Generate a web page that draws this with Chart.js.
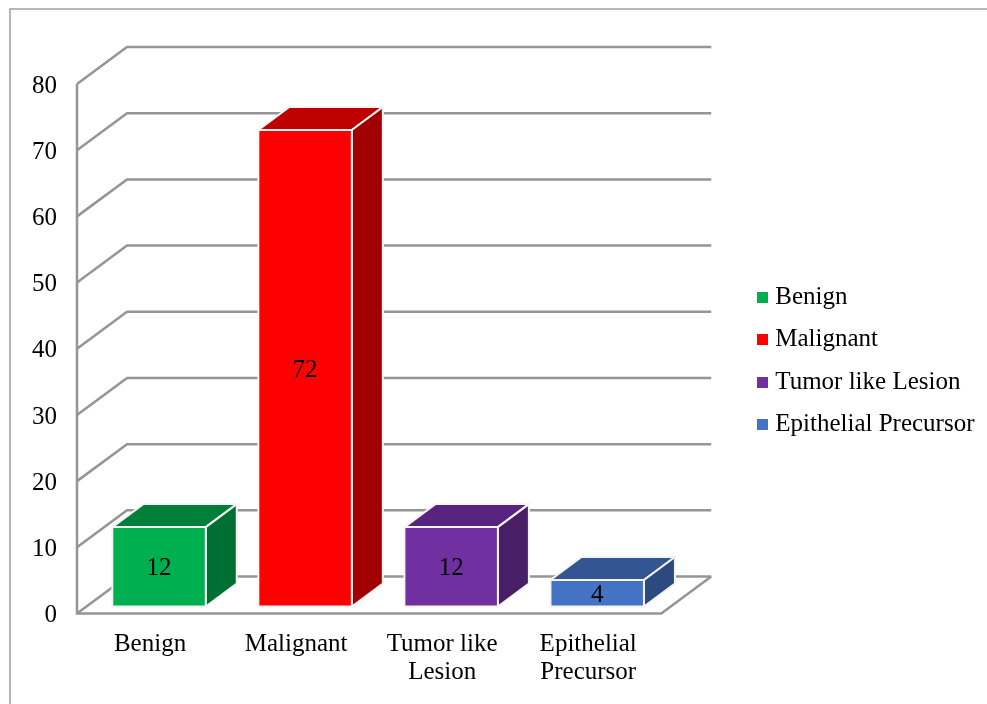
<!DOCTYPE html>
<html lang="en">
<head>
    <meta charset="UTF-8">
    <script src="https://cdn.jsdelivr.net/npm/chart.js"></script>
    <title>Lesion types</title>
    <style>
        body { margin: 0; background: #fff; overflow: hidden; }
    </style>
</head>
<body>
    <canvas id="lesionChart" width="987" height="704"></canvas>

    <script>
    const categories = ['Benign', 'Malignant', ['Tumor like', 'Lesion'], ['Epithelial', 'Precursor']];
    const legendNames = ['Benign', 'Malignant', 'Tumor like Lesion', 'Epithelial Precursor'];
    const cases = [12, 72, 12, 4];
    const yTicks = [0, 10, 20, 30, 40, 50, 60, 70, 80];

    const frontColors = ['#00b050', '#ff0000', '#7030a0', '#4472c4'];
    const topColors = ['#007f3a', '#bf0000', '#582480', '#335592'];
    const sideColors = ['#006f32', '#a00000', '#481e67', '#2c4a80'];

    const FONT = 'Liberation Serif';
    const GRID_COLOR = '#959595';
    // how far the back wall sits behind the front plane
    const WALL_X = 50, WALL_Y = 37;
    // bars stand a little way in from the front edge of the floor
    const BAR_SHIFT_X = 9, BAR_SHIFT_Y = 7;
    const BAR_DEPTH_X = 31, BAR_DEPTH_Y = 23;

    function legendSwatch(color) {
        const c = document.createElement('canvas');
        c.width = 11;
        c.height = 11;
        const g = c.getContext('2d');
        g.fillStyle = color;
        g.fillRect(0, 0, 11, 11);
        return c;
    }

    function polygon(ctx, points, fill, stroke) {
        ctx.beginPath();
        points.forEach((p, i) => i ? ctx.lineTo(p[0], p[1]) : ctx.moveTo(p[0], p[1]));
        ctx.closePath();
        ctx.fillStyle = fill;
        ctx.fill();
        ctx.strokeStyle = stroke;
        ctx.stroke();
    }

    const frame3d = {
        id: 'frame3d',
        beforeDraw(chart) {
            const ctx = chart.ctx;
            ctx.save();
            ctx.strokeStyle = '#a0a0a0';
            ctx.lineWidth = 1.5;
            ctx.strokeRect(10, 9, 990, 720);
            ctx.restore();
        },
        beforeDatasetsDraw(chart) {
            const ctx = chart.ctx;
            const {left, right} = chart.chartArea;
            const y = chart.scales.y;
            ctx.save();
            ctx.lineWidth = 2.5;
            ctx.strokeStyle = GRID_COLOR;
            yTicks.forEach((v) => {
                const py = y.getPixelForValue(v);
                ctx.beginPath();
                ctx.moveTo(left, py);
                ctx.lineTo(left + WALL_X, py - WALL_Y);
                ctx.lineTo(right + WALL_X, py - WALL_Y);
                ctx.stroke();
            });
            // floor front and right edges, then the left axis
            const base = y.getPixelForValue(0);
            ctx.beginPath();
            ctx.moveTo(left, y.getPixelForValue(80));
            ctx.lineTo(left, base);
            ctx.lineTo(right, base);
            ctx.lineTo(right + WALL_X, base - WALL_Y);
            ctx.stroke();
            ctx.restore();
        },
        beforeDatasetDraw(chart) {
            const ctx = chart.ctx;
            ctx.save();
            ctx.translate(BAR_SHIFT_X, -BAR_SHIFT_Y);
            ctx.lineWidth = 2;
            ctx.lineJoin = 'round';
            chart.getDatasetMeta(0).data.forEach((bar, i) => {
                const x0 = bar.x - bar.width / 2;
                const x1 = bar.x + bar.width / 2;
                polygon(ctx, [[x0, bar.y], [x0 + BAR_DEPTH_X, bar.y - BAR_DEPTH_Y], [x1 + BAR_DEPTH_X, bar.y - BAR_DEPTH_Y], [x1, bar.y]], topColors[i], '#f4f4f4');
                polygon(ctx, [[x1, bar.y], [x1 + BAR_DEPTH_X, bar.y - BAR_DEPTH_Y], [x1 + BAR_DEPTH_X, bar.base - BAR_DEPTH_Y], [x1, bar.base]], sideColors[i], '#f4f4f4');
            });
        },
        afterDatasetDraw(chart) {
            const ctx = chart.ctx;
            ctx.font = '25px "' + FONT + '"';
            ctx.fillStyle = '#000';
            ctx.textAlign = 'center';
            ctx.textBaseline = 'middle';
            chart.getDatasetMeta(0).data.forEach((bar, i) => {
                ctx.strokeStyle = '#f4f4f4';
                ctx.strokeRect(bar.x - bar.width / 2, bar.y, bar.width, bar.base - bar.y);
                // middle baseline sits a bit high in this font
                ctx.fillText(cases[i], bar.x, (bar.y + bar.base) / 2 + 2);
            });
            ctx.restore();
        }
    };

    new Chart(document.getElementById('lesionChart'), {
        type: 'bar',
        plugins: [frame3d],
        data: {
            labels: categories,
            datasets: [{
                label: 'Cases',
                data: cases,
                backgroundColor: frontColors,
                categoryPercentage: 1,
                barPercentage: 0.64
            }]
        },
        options: {
            responsive: false,
            animation: false,
            layout: {
                padding: {top: 17.5, bottom: 0, left: 0, right: 2.5}
            },
            plugins: {
                tooltip: {enabled: false},
                legend: {
                    position: 'right',
                    maxWidth: 260,
                    labels: {
                        color: '#000',
                        font: {family: FONT, size: 25},
                        padding: 17.5,
                        usePointStyle: true,
                        pointStyleWidth: 0.01,
                        generateLabels: () => legendNames.map((name, i) => ({
                            text: name,
                            fontColor: '#000',
                            pointStyle: legendSwatch(frontColors[i]),
                            datasetIndex: 0,
                            index: i
                        }))
                    }
                }
            },
            scales: {
                x: {
                    grid: {display: false},
                    border: {display: false},
                    ticks: {
                        color: '#000',
                        font: {family: FONT, size: 25, lineHeight: 1.12},
                        padding: 9,
                        maxRotation: 0,
                        autoSkip: false
                    },
                    afterFit(scale) { scale.height = 90.5; }
                },
                y: {
                    min: 0,
                    max: 80,
                    grid: {display: false, drawTicks: false},
                    border: {display: false},
                    ticks: {
                        color: '#000',
                        font: {family: FONT, size: 25},
                        padding: 20,
                        stepSize: 10,
                        labelOffset: 2
                    },
                    afterFit(scale) { scale.width = 77; }
                },
                // empty axes, they only hold the room above the plot and right of it
                spacerTop: {
                    axis: 'x',
                    type: 'linear',
                    position: 'top',
                    grid: {display: false},
                    border: {display: false},
                    ticks: {display: false},
                    afterFit(scale) { scale.height = 66.5; }
                },
                spacerRight: {
                    position: 'right',
                    min: 0,
                    max: 80,
                    grid: {display: false},
                    border: {display: false},
                    ticks: {display: false},
                    afterFit(scale) { scale.width = 84; }
                }
            }
        }
    });
    </script>
</body>
</html>
